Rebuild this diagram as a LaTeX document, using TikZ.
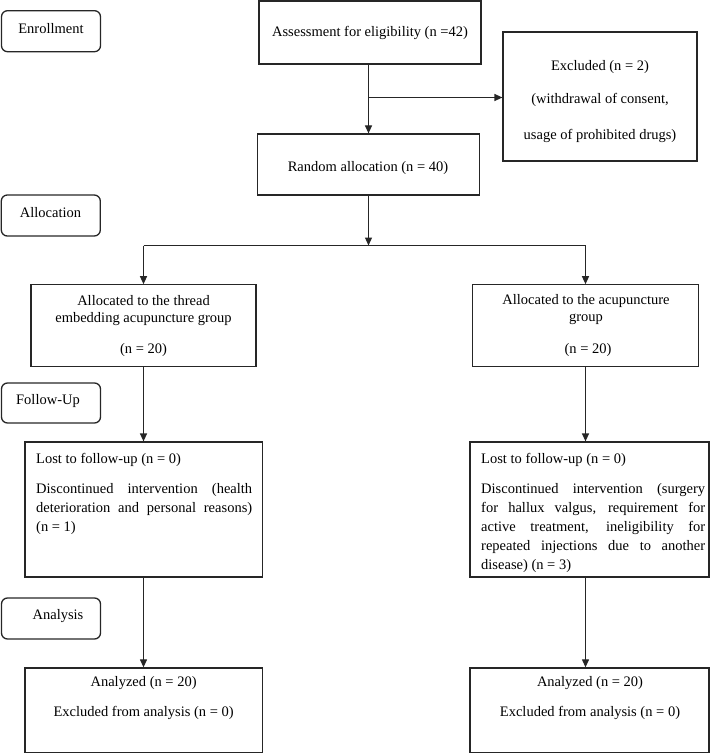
\documentclass[tikz,border=0pt]{standalone}
\usepackage{fontspec}
\setmainfont{Liberation Serif}
\usetikzlibrary{arrows.meta,calc}
\begin{document}
\begin{tikzpicture}[x=1pt,y=-1pt,
  every node/.style={font=\fontsize{14.5}{19}\selectfont, inner sep=0pt, text=black},
  frame/.style={draw=black!85, line width=1.2pt, rectangle, minimum width=#1},
  stage/.style={draw=black!85, line width=1.3pt, rectangle, rounded corners=6pt, minimum width=99pt, minimum height=41pt},
  conn/.style={draw=black!85, line width=1.2pt},
  arr/.style={conn, -{Triangle[length=8pt,width=7pt]}}
]
\useasboundingbox (0,0) rectangle (712,754);

% stage labels
\node[stage] (enroll) at (51,31.2) {};
\node (enrollT) at (51,28.3) {Enrollment};
\node[stage] (allocS) at (50.8,215.5) {};
\node (allocST) at (50.5,213) {Allocation};
\node[stage, minimum height=40pt] (follow) at (51,403) {};
\node (followT) at (48,400.7) {Follow-Up};
\node[stage] (analysis) at (51,618.5) {};
\node (analysisT) at (58,616) {Analysis};

% main boxes
\node[frame=222pt, minimum height=63pt] (assess) at (370,32.6) {};
\node (assessT) at (370,33) {Assessment for eligibility (n =42)};

\node[frame=194pt, minimum height=129pt] (excl) at (600,96.5) {};
\node (exclT1) at (600,66.7) {Excluded (n = 2)};
\node (exclT2) at (600,100) {(withdrawal of consent,};
\node (exclT3) at (600,136) {usage of prohibited drugs)};

\node[frame=222pt, minimum height=61pt] (random) at (368.5,164.5) {};
\node (randomT) at (368,167.7) {Random allocation (n = 40)};

\node[frame=225pt, minimum height=82pt] (allocL) at (143.5,325.8) {};
\node (allocLT1) at (143.5,300.7) {Allocated to the thread};
\node (allocLT2) at (143.5,319) {embedding acupuncture group};
\node (allocLT3) at (143.5,350) {(n = 20)};

\node[frame=226pt, minimum height=82pt] (allocR) at (585.5,325.8) {};
\node (allocRT1) at (586,300.7) {Allocated to the acupuncture};
\node (allocRT2) at (586,319) {group};
\node (allocRT3) at (588,350) {(n = 20)};

\node[frame=237.5pt, minimum height=135pt] (lostL) at (143.75,509.5) {};
\node[anchor=west] (lostLT1) at (36,460) {Lost to follow-up (n = 0)};
\node[anchor=north west] (lostLT2) at (36,479.5) {\parbox[t]{216pt}{\strut\makebox[216pt][s]{Discontinued intervention (health}\\
\makebox[216pt][s]{deterioration and personal reasons)}\\
(n = 1)}};

\node[frame=239pt, minimum height=135pt] (lostR) at (589.5,509.5) {};
\node[anchor=west] (lostRT1) at (481,460) {Lost to follow-up (n = 0)};
\node[anchor=north west] (lostRT2) at (481,479.5) {\parbox[t]{224pt}{\strut\makebox[224pt][s]{Discontinued intervention (surgery}\\
\makebox[224pt][s]{for hallux valgus, requirement for}\\
\makebox[224pt][s]{active treatment, ineligibility for}\\
\makebox[224pt][s]{repeated injections due to another}\\
disease) (n = 3)}};

\node[frame=237.5pt, minimum height=84.7pt] (anaL) at (143.75,710.3) {};
\node (anaLT1) at (143.6,683) {Analyzed (n = 20)};
\node (anaLT2) at (143.6,713) {Excluded from analysis (n = 0)};

\node[frame=239pt, minimum height=84.7pt] (anaR) at (589.5,710.3) {};
\node (anaRT1) at (590,683) {Analyzed (n = 20)};
\node (anaRT2) at (590,713) {Excluded from analysis (n = 0)};

% connectors
\coordinate (br) at (368.5,97.5);
\draw[arr] (random.north |- assess.south) -- (random.north);
\draw[arr] (br) -- (br -| excl.west);

\coordinate (split) at (368.5,245.5);
\coordinate (sL) at (143.5,245.5);
\coordinate (sR) at (585.5,245.5);
\draw[arr] (random.south) -- (split);
\draw[conn] (sL) -- (sR);
\draw[arr] (sL) -- (allocL.north);
\draw[arr] (sR) -- (allocR.north);

\draw[arr] (allocL.south) -- (allocL.south |- lostL.north);
\draw[arr] (allocR.south) -- (allocR.south |- lostR.north);
\draw[arr] (allocL.south |- lostL.south) -- (allocL.south |- anaL.north);
\draw[arr] (allocR.south |- lostR.south) -- (allocR.south |- anaR.north);
\end{tikzpicture}
\end{document}
